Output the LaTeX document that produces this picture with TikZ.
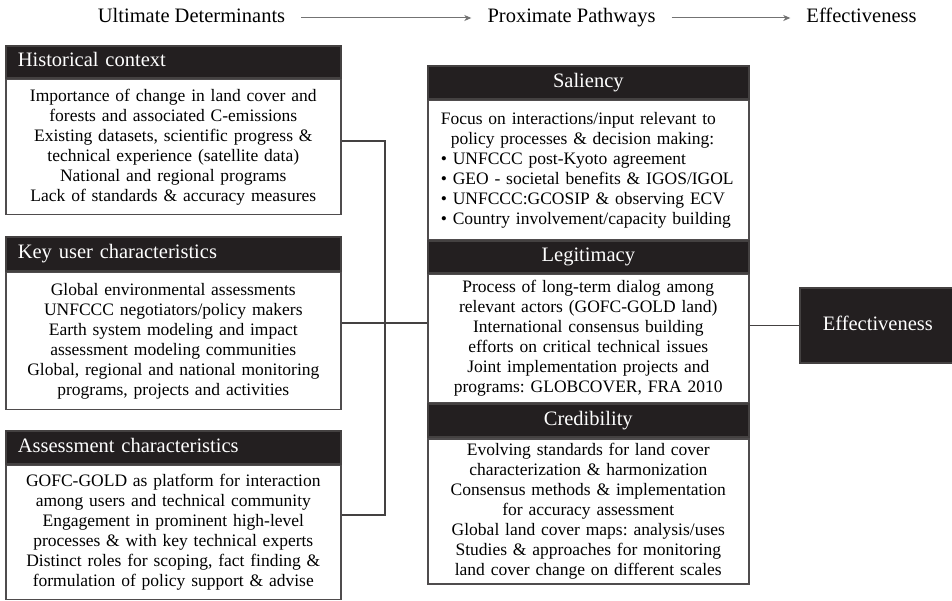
\documentclass[tikz,border=0pt]{standalone}
\usepackage{fontspec}
\setmainfont{Liberation Serif}
\usetikzlibrary{arrows.meta,positioning,fit,calc}
\definecolor{ink}{HTML}{231F20}
\frenchspacing
\tikzset{
  head/.style={draw=ink!85,fill=ink,text=white,line width=1.6pt,minimum height=32pt,
    inner xsep=12pt,inner ysep=0pt,text height=14pt,text depth=4pt,
    font=\fontsize{20.5}{24}\selectfont},
  lhead/.style={head,text width=311pt,align=left,anchor=north west},
  mhead/.style={head,text width=297pt,align=center},
  body/.style={draw=ink!80,fill=white,line width=1.6pt,inner xsep=4pt,inner ysep=0pt,
    align=center,font=\fontsize{17.5}{20}\selectfont},
  lbody/.style={body,text width=327pt},
  mbody/.style={body,text width=313pt},
  group/.style={inner sep=0pt},
  label/.style={inner xsep=16pt,inner ysep=2pt,text height=14pt,text depth=4pt,
    font=\fontsize{20.5}{24}\selectfont},
  flow/.style={-{Stealth[length=7pt,width=6pt,inset=2pt]},draw=black!55,line width=1pt},
  link/.style={draw=ink!85,line width=1.6pt},
}
\begin{document}
\begin{tikzpicture}[x=1pt,y=-1pt,node distance=0pt]
  \useasboundingbox (0,0) rectangle (952,601);

  % top row
  \node[label] (ult) at (191.5,18) {Ultimate Determinants};
  \node[label] (prox) at (571.5,18) {Proximate Pathways};
  \node[label] (effl) at (861.5,18) {Effectiveness};
  \draw[flow] (ult) -- (prox);
  \draw[flow] (prox) -- (effl);

  % ultimate determinants
  \node[lhead] (histhead) at (5,45) {Historical context};
  \node[lbody,below=of histhead,minimum height=135pt] (histbody)
    {Importance of change in land cover and\\forests and associated C-emissions\\
     Existing datasets, scientific progress \&\\technical experience (satellite data)\\
     National and regional programs\\Lack of standards \& accuracy measures};

  \node[lhead,minimum height=34pt] (keyhead) at (5,236) {Key user characteristics};
  \node[lbody,below=of keyhead,minimum height=137pt] (keybody)
    {Global environmental assessments\\UNFCCC negotiators/policy makers\\
     Earth system modeling and impact\\assessment modeling communities\\
     Global, regional and national monitoring\\programs, projects and activities};
  \node[group,fit=(keyhead)(keybody)] (key) {};

  \node[lhead,minimum height=33pt] (assesshead) at (5,430) {Assessment characteristics};
  \node[lbody,below=of assesshead,minimum height=134pt] (assessbody)
    {GOFC-GOLD as platform for interaction\\among users and technical community\\
     Engagement in prominent high-level\\processes \& with key technical experts\\
     Distinct roles for scoping, fact finding \&\\formulation of policy support \& advise};
  \node[group,fit=(assesshead)(assessbody)] (assess) {};

  % proximate pathways
  \node[mhead,anchor=north west,minimum height=33pt] (salhead) at (427,65) {Saliency};
  \node[mbody,below=of salhead,minimum height=139pt,text width=295pt,inner xsep=13pt,
    align=left] (salbody)
    {Focus on interactions/input relevant to\\\hspace*{10pt}policy processes \& decision making:\\
     \textbullet{} UNFCCC post-Kyoto agreement\\\textbullet{} GEO - societal benefits \& IGOS/IGOL\\
     \textbullet{} UNFCCC:GCOSIP \& observing ECV\\\textbullet{} Country involvement/capacity building};
  \node[mhead,below=of salbody] (leghead) {Legitimacy};
  \node[mbody,below=of leghead,minimum height=128pt] (legbody)
    {Process of long-term dialog among\\relevant actors (GOFC-GOLD land)\\
     International consensus building\\efforts on critical technical issues\\
     Joint implementation projects and\\programs: GLOBCOVER, FRA 2010};
  \node[mhead,below=of legbody,minimum height=33pt] (credhead) {Credibility};
  \node[mbody,below=of credhead,minimum height=145pt] (credbody)
    {Evolving standards for land cover\\characterization \& harmonization\\
     Consensus methods \& implementation\\for accuracy assessment\\
     Global land cover maps: analysis/uses\\Studies \& approaches for monitoring\\
     land cover change on different scales};
  \node[group,fit=(salhead)(credbody)] (paths) {};

  % effectiveness
  \node[head,anchor=north west,minimum width=156pt,minimum height=75pt,inner xsep=0pt]
    (eff) at (799,287) {Effectiveness};

  \coordinate[right=43pt of key.east] (jn);
  \draw[link] ([yshift=6pt]histbody.east) -| (jn);
  \draw[link] (assess.east) -| (jn);
  \draw[link] (key.east) -- (jn);
  \draw[link] (jn) -- (jn -| paths.west);
  \draw[link] (paths.east |- eff.west) -- (eff.west);
\end{tikzpicture}
\end{document}
